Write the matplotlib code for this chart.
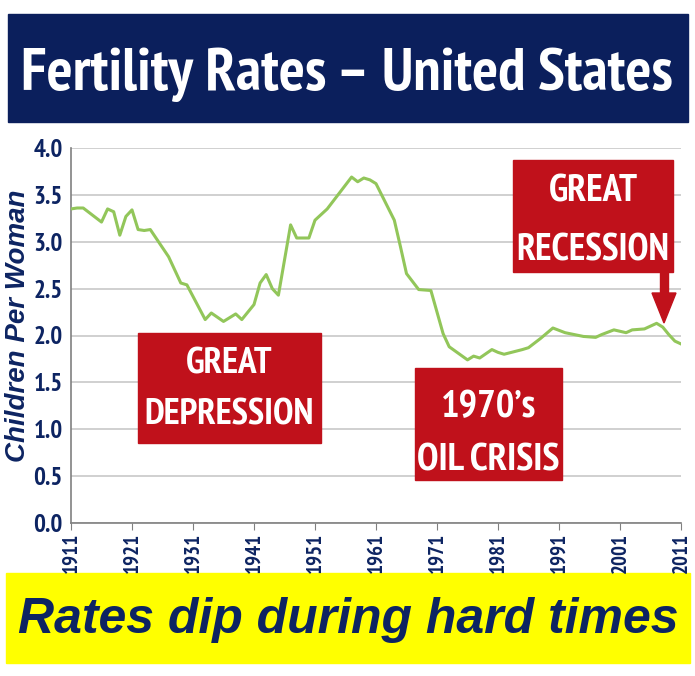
import matplotlib
matplotlib.use("Agg")
import matplotlib.pyplot as plt
from matplotlib.patches import Rectangle, Polygon

# -----------------------------------------------------------------------------
# Data
# -----------------------------------------------------------------------------
years = [1911, 1912, 1913, 1914, 1915, 1916, 1917, 1918, 1919, 1920,
         1921, 1922, 1923, 1924, 1927, 1929, 1930, 1933, 1934, 1936,
         1938, 1939, 1941, 1942, 1943, 1944, 1945, 1947, 1948, 1950,
         1951, 1953, 1955, 1957, 1958, 1959, 1960, 1961, 1964, 1965,
         1966, 1968, 1970, 1971, 1972, 1973, 1976, 1977, 1978, 1980,
         1981, 1982, 1985, 1986, 1988, 1990, 1992, 1995, 1997, 1998,
         2000, 2002, 2003, 2005, 2007, 2008, 2009, 2010, 2011]
rates = [3.35, 3.36, 3.36, 3.31, 3.26, 3.21, 3.35, 3.32, 3.07, 3.27,
         3.34, 3.13, 3.12, 3.13, 2.84, 2.56, 2.54, 2.17, 2.24, 2.15,
         2.23, 2.17, 2.33, 2.56, 2.65, 2.50, 2.43, 3.18, 3.04, 3.04,
         3.23, 3.35, 3.52, 3.69, 3.64, 3.68, 3.66, 3.62, 3.23, 2.95,
         2.66, 2.49, 2.48, 2.25, 2.02, 1.88, 1.74, 1.78, 1.76, 1.85,
         1.82, 1.80, 1.85, 1.87, 1.97, 2.08, 2.03, 1.99, 1.98, 2.01,
         2.06, 2.03, 2.06, 2.07, 2.13, 2.09, 2.01, 1.94, 1.91]

xticks = list(range(1911, 2012, 10))
yticks = [0.0, 0.5, 1.0, 1.5, 2.0, 2.5, 3.0, 3.5, 4.0]

title = "Fertility Rates \u2013 United States"
subtitle = "Rates dip during hard times"
ylabel = "Children Per Woman"
notes = [("GREAT", "DEPRESSION"), ("1970\u2019s", "OIL CRISIS"),
         ("GREAT", "RECESSION")]

# -----------------------------------------------------------------------------
# Style
# -----------------------------------------------------------------------------
W, H = 695, 676
NAVY = "#0b1f5c"
TXT = "#0d2462"
RED = "#c0111b"
GREEN = "#92c65a"
NARROW = ["PT Sans Narrow", "Roboto Condensed", "DejaVu Sans"]
WIDE = ["Liberation Sans", "DejaVu Sans"]


def fx(x):
    return x / W


def fy(y):
    return 1 - y / H


fig = plt.figure(figsize=(W / 100, H / 100), dpi=100)
fig.patch.set_facecolor("white")
rend = fig.canvas.get_renderer()


def narrow_text(x, yc, s, size, maxw, color="white", z=6):
    # condensed bold text, shrunk if it is wider than maxw pixels
    t = fig.text(fx(x), fy(yc), s, ha="center", va="baseline", color=color,
                 family=NARROW, fontweight="bold", fontsize=size, zorder=z)
    w = t.get_window_extent(rend).width
    if w > maxw:
        size = size * maxw / w
        t.set_fontsize(size)
    cap = 0.70 * size * 100 / 72
    t.set_y(fy(yc + cap / 2))
    return t


# plot area
ax = fig.add_axes([fx(71), fy(523), fx(681) - fx(71), fy(148) - fy(523)])
ax.set_zorder(1)
ax.plot(years, rates, color=GREEN, lw=2.2, zorder=3)
ax.set_xlim(1911, 2011)
ax.set_ylim(0, 4)
ax.set_yticks(yticks)
ax.set_yticklabels(["%.1f" % v for v in yticks], family=NARROW,
                   fontweight="bold", fontsize=18, color=TXT)
ax.set_xticks(xticks)
ax.set_xticklabels([str(v) for v in xticks], family=NARROW,
                   fontweight="bold", fontsize=15, color=TXT, rotation=90)
ax.tick_params(axis="y", length=0, pad=6)
ax.tick_params(axis="x", length=5, direction="out", color="#808080", pad=2)
ax.grid(axis="y", color="#c8c8c8", lw=1.2)
ax.set_axisbelow(True)
for s in ["top", "right"]:
    ax.spines[s].set_visible(False)
ax.spines["left"].set_color("#808080")
ax.spines["bottom"].set_color("#808080")
ax.spines["left"].set_linewidth(1.2)
ax.spines["bottom"].set_linewidth(1.2)

fig.text(fx(18), fy(326), ylabel, rotation=90, ha="center", va="center",
         family=WIDE, fontweight="bold", fontstyle="italic", fontsize=20,
         color=TXT)

# title banner
fig.patches.append(Rectangle((fx(8), fy(122)), fx(680), 108 / H,
                             transform=fig.transFigure, color=NAVY,
                             zorder=-1))
narrow_text(347, 69, title, 56, 652)

# bottom banner
fig.patches.append(Rectangle((fx(6), fy(663)), fx(684), 90 / H,
                             transform=fig.transFigure, color="#ffff00",
                             zorder=-1))
fig.text(fx(348), fy(620), subtitle, ha="center", va="center", color=TXT,
         family=WIDE, fontweight="bold", fontstyle="italic", fontsize=36)

# red annotation boxes: box corners, line centres, widest text
boxes = [(138, 333, 321, 443), (415, 368, 562, 480), (513, 160, 673, 272)]
line_y = [(361, 412), (403, 457), (188, 247)]
widths = [170, 143, 153]
for (x0, y0, x1, y1), (l1, l2), (ya, yb), mw in zip(boxes, notes, line_y,
                                                     widths):
    fig.patches.append(Rectangle((fx(x0), fy(y1)), fx(x1 - x0), (y1 - y0) / H,
                                 transform=fig.transFigure, color=RED,
                                 zorder=5))
    t2 = narrow_text((x0 + x1) / 2, yb, l2, 34, mw)
    narrow_text((x0 + x1) / 2, ya, l1, t2.get_fontsize(), mw)

# arrow under GREAT RECESSION
fig.patches.append(Rectangle((fx(660), fy(294)), fx(8), 22 / H,
                             transform=fig.transFigure, color=RED, zorder=5))
fig.patches.append(Polygon([(fx(652), fy(293)), (fx(676), fy(293)),
                            (fx(664), fy(323))], closed=True,
                           transform=fig.transFigure, color=RED, zorder=5))

fig.savefig("out.png", dpi=100)
